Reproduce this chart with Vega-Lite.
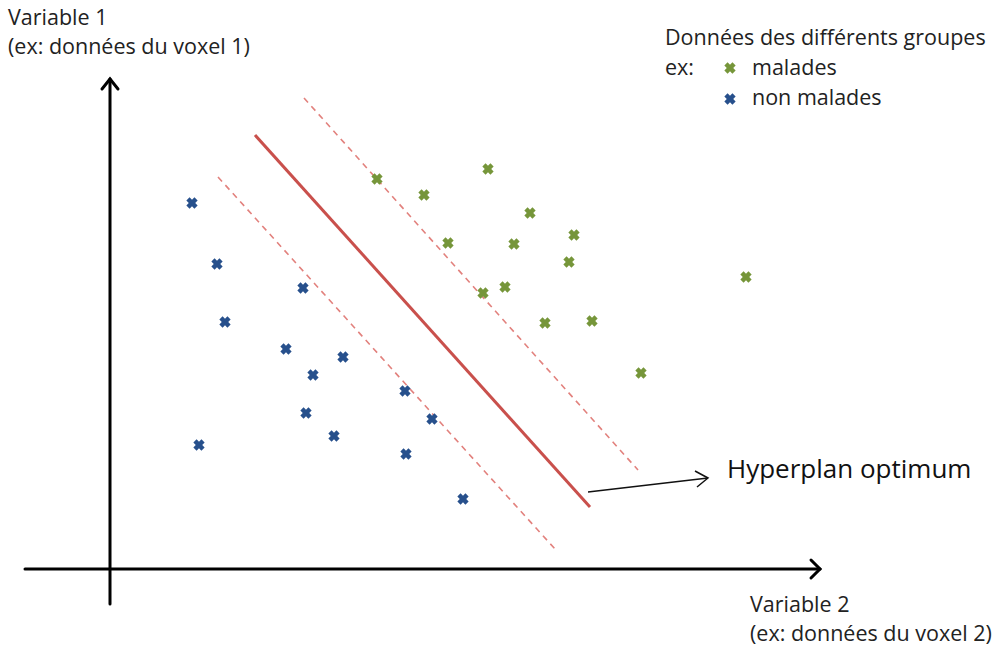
{
  "$schema": "https://vega.github.io/schema/vega-lite/v6.json",
  "width": 1004,
  "height": 648,
  "padding": 0,
  "autosize": {"type": "fit", "contains": "padding"},
  "background": "white",
  "config": {"view": {"stroke": null}},
  "datasets": {
    "points": [
      {"groupe": "non malades", "v2": 192, "v1": 203},
      {"groupe": "non malades", "v2": 217, "v1": 264},
      {"groupe": "non malades", "v2": 303, "v1": 288},
      {"groupe": "non malades", "v2": 225, "v1": 322},
      {"groupe": "non malades", "v2": 286, "v1": 349},
      {"groupe": "non malades", "v2": 343, "v1": 357},
      {"groupe": "non malades", "v2": 313, "v1": 375},
      {"groupe": "non malades", "v2": 405, "v1": 391},
      {"groupe": "non malades", "v2": 306, "v1": 413},
      {"groupe": "non malades", "v2": 432, "v1": 419},
      {"groupe": "non malades", "v2": 334, "v1": 436},
      {"groupe": "non malades", "v2": 199, "v1": 445},
      {"groupe": "non malades", "v2": 406, "v1": 454},
      {"groupe": "non malades", "v2": 463, "v1": 499},
      {"groupe": "malades", "v2": 377, "v1": 179},
      {"groupe": "malades", "v2": 488, "v1": 169},
      {"groupe": "malades", "v2": 424, "v1": 195},
      {"groupe": "malades", "v2": 530, "v1": 213},
      {"groupe": "malades", "v2": 448, "v1": 243},
      {"groupe": "malades", "v2": 514, "v1": 244},
      {"groupe": "malades", "v2": 574, "v1": 235},
      {"groupe": "malades", "v2": 569, "v1": 262},
      {"groupe": "malades", "v2": 746, "v1": 277},
      {"groupe": "malades", "v2": 505, "v1": 287},
      {"groupe": "malades", "v2": 483, "v1": 293},
      {"groupe": "malades", "v2": 545, "v1": 323},
      {"groupe": "malades", "v2": 592, "v1": 321},
      {"groupe": "malades", "v2": 641, "v1": 373},
      {"groupe": "malades", "v2": 730, "v1": 68, "legend": true},
      {"groupe": "non malades", "v2": 730, "v1": 99, "legend": true}
    ],
    "lines": [
      {"kind": "axis", "id": "xaxis", "o": 0, "x": 25, "y": 569},
      {"kind": "axis", "id": "xaxis", "o": 1, "x": 820, "y": 569},
      {"kind": "axis", "id": "xhead", "o": 0, "x": 811, "y": 560},
      {"kind": "axis", "id": "xhead", "o": 1, "x": 820, "y": 569},
      {"kind": "axis", "id": "xhead", "o": 2, "x": 811, "y": 578},
      {"kind": "axis", "id": "yaxis", "o": 0, "x": 110, "y": 604},
      {"kind": "axis", "id": "yaxis", "o": 1, "x": 110, "y": 79},
      {"kind": "axis", "id": "yhead", "o": 0, "x": 102, "y": 89},
      {"kind": "axis", "id": "yhead", "o": 1, "x": 110, "y": 79},
      {"kind": "axis", "id": "yhead", "o": 2, "x": 118, "y": 89},
      {"kind": "hyperplan", "id": "h", "o": 0, "x": 255, "y": 135},
      {"kind": "hyperplan", "id": "h", "o": 1, "x": 590, "y": 507},
      {"kind": "marge", "id": "m1", "o": 0, "x": 304, "y": 98},
      {"kind": "marge", "id": "m1", "o": 1, "x": 638, "y": 470},
      {"kind": "marge", "id": "m2", "o": 0, "x": 218, "y": 177},
      {"kind": "marge", "id": "m2", "o": 1, "x": 555, "y": 549},
      {"kind": "pointer", "id": "p", "o": 0, "x": 588, "y": 492},
      {"kind": "pointer", "id": "p", "o": 1, "x": 708, "y": 478},
      {"kind": "pointer", "id": "phead", "o": 0, "x": 695, "y": 471},
      {"kind": "pointer", "id": "phead", "o": 1, "x": 708, "y": 478},
      {"kind": "pointer", "id": "phead", "o": 2, "x": 697, "y": 487}
    ],
    "labels": [
      {"role": "small", "x": 8, "y": 19, "text": "Variable 1"},
      {"role": "small", "x": 8, "y": 48, "text": "(ex: données du voxel 1)"},
      {"role": "small", "x": 665, "y": 39, "text": "Données des différents groupes"},
      {"role": "small", "x": 665, "y": 69, "text": "ex:"},
      {"role": "small", "x": 752, "y": 69, "text": "malades"},
      {"role": "small", "x": 752, "y": 99, "text": "non malades"},
      {"role": "small", "x": 750, "y": 606, "text": "Variable 2"},
      {"role": "small", "x": 750, "y": 635, "text": "(ex: données du voxel 2)"},
      {"role": "big", "x": 727, "y": 470, "text": "Hyperplan optimum"}
    ]
  },
  "layer": [
    {
      "data": {"name": "lines"},
      "transform": [{"filter": "datum.kind === 'marge'"}],
      "mark": {"type": "line", "color": "#E2817D", "strokeWidth": 1.6, "strokeDash": [6, 5]},
      "encoding": {
        "x": {"field": "x", "type": "quantitative", "scale": {"domain": [0, 1004]}, "axis": null},
        "y": {"field": "y", "type": "quantitative", "scale": {"domain": [648, 0]}, "axis": null},
        "detail": {"field": "id"},
        "order": {"field": "o"}
      }
    },
    {
      "data": {"name": "lines"},
      "transform": [{"filter": "datum.kind === 'hyperplan'"}],
      "mark": {"type": "line", "color": "#C9504C", "strokeWidth": 3},
      "encoding": {
        "x": {"field": "x", "type": "quantitative", "scale": {"domain": [0, 1004]}, "axis": null},
        "y": {"field": "y", "type": "quantitative", "scale": {"domain": [648, 0]}, "axis": null},
        "detail": {"field": "id"},
        "order": {"field": "o"}
      }
    },
    {
      "data": {"name": "lines"},
      "transform": [{"filter": "datum.kind === 'axis'"}],
      "mark": {"type": "line", "color": "#000000", "strokeWidth": 3, "strokeCap": "round", "strokeJoin": "miter"},
      "encoding": {
        "x": {"field": "x", "type": "quantitative", "scale": {"domain": [0, 1004]}, "axis": null},
        "y": {"field": "y", "type": "quantitative", "scale": {"domain": [648, 0]}, "axis": null},
        "detail": {"field": "id"},
        "order": {"field": "o"}
      }
    },
    {
      "data": {"name": "lines"},
      "transform": [{"filter": "datum.kind === 'pointer'"}],
      "mark": {"type": "line", "color": "#111111", "strokeWidth": 1.5},
      "encoding": {
        "x": {"field": "x", "type": "quantitative", "scale": {"domain": [0, 1004]}, "axis": null},
        "y": {"field": "y", "type": "quantitative", "scale": {"domain": [648, 0]}, "axis": null},
        "detail": {"field": "id"},
        "order": {"field": "o"}
      }
    },
    {
      "data": {"name": "points"},
      "mark": {"type": "point", "shape": "cross", "angle": 45, "filled": true, "size": 130, "opacity": 1},
      "encoding": {
        "x": {"field": "v2", "type": "quantitative", "scale": {"domain": [0, 1004]}, "axis": null},
        "y": {"field": "v1", "type": "quantitative", "scale": {"domain": [648, 0]}, "axis": null},
        "color": {"field": "groupe", "type": "nominal", "scale": {"domain": ["malades", "non malades"], "range": ["#76963A", "#27508C"]}, "legend": null}
      }
    },
    {
      "data": {"name": "labels"},
      "transform": [{"filter": "datum.role === 'small'"}],
      "mark": {"type": "text", "align": "left", "baseline": "middle", "font": "Open Sans", "fontSize": 21.5, "color": "#222222"},
      "encoding": {
        "x": {"field": "x", "type": "quantitative", "scale": {"domain": [0, 1004]}, "axis": null},
        "y": {"field": "y", "type": "quantitative", "scale": {"domain": [648, 0]}, "axis": null},
        "text": {"field": "text"}
      }
    },
    {
      "data": {"name": "labels"},
      "transform": [{"filter": "datum.role === 'big'"}],
      "mark": {"type": "text", "align": "left", "baseline": "middle", "font": "Open Sans", "fontSize": 26, "color": "#111111"},
      "encoding": {
        "x": {"field": "x", "type": "quantitative", "scale": {"domain": [0, 1004]}, "axis": null},
        "y": {"field": "y", "type": "quantitative", "scale": {"domain": [648, 0]}, "axis": null},
        "text": {"field": "text"}
      }
    }
  ]
}
